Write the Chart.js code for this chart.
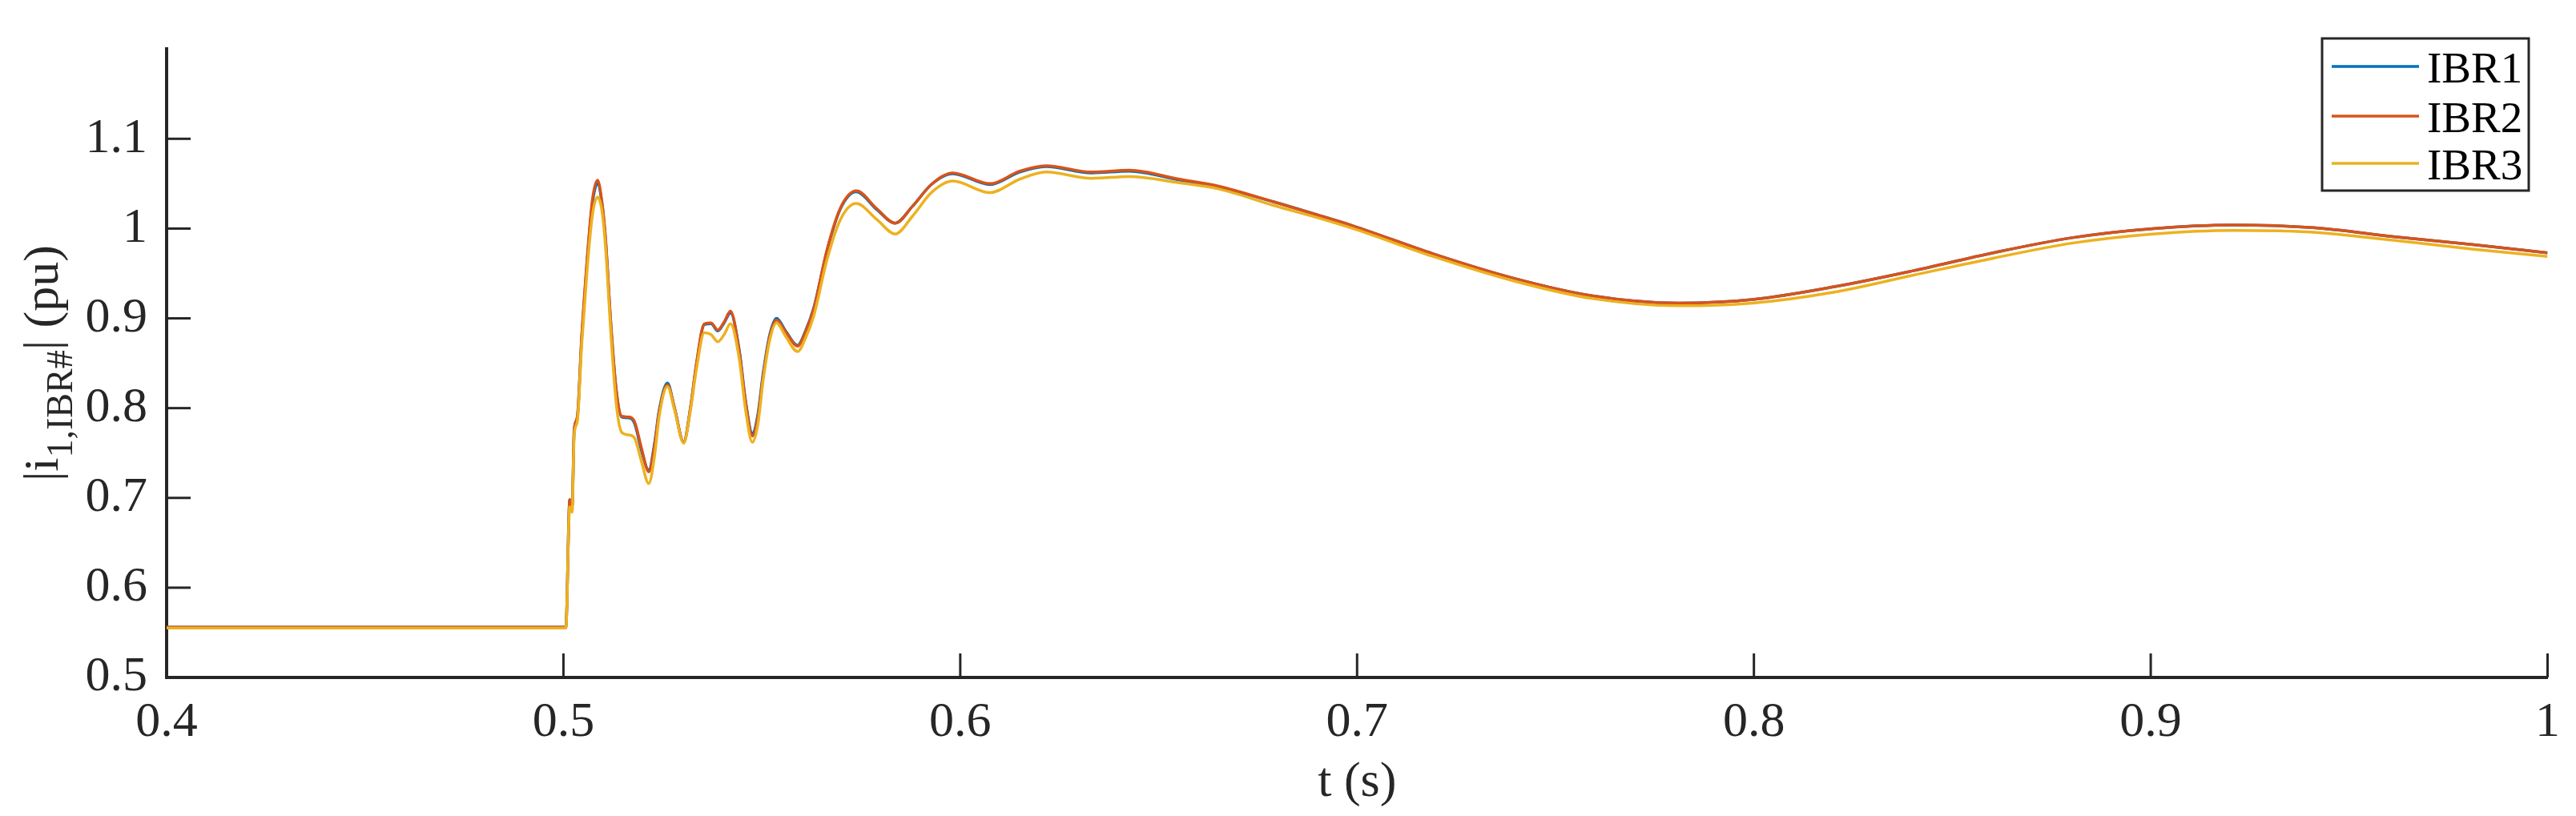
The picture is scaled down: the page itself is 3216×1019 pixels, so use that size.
<!DOCTYPE html>
<html>
<head>
<meta charset="utf-8">
<script src="https://cdn.jsdelivr.net/npm/chart.js@4/dist/chart.umd.min.js"></script>
<style>
  html, body { margin: 0; padding: 0; background: #fff; }
  canvas { display: block; }
</style>
</head>
<body>
<canvas id="currentChart" width="3216" height="1019"></canvas>
<script>
// time axis (s) and positive-sequence current magnitude of each IBR (pu)
const timeS = [
  0.400, 0.450, 0.5006, 0.5016, 0.5022, 0.5027, 0.5035, 0.5046, 0.5059, 0.5073,
  0.5086, 0.5097, 0.5106, 0.5120, 0.5133, 0.5147, 0.5167, 0.5180, 0.5197, 0.5215,
  0.5230, 0.5241, 0.5262, 0.5280, 0.5303, 0.5320, 0.5335, 0.5355, 0.5372, 0.5389,
  0.5405, 0.5421, 0.5443, 0.5459, 0.5476, 0.5490, 0.5503, 0.5520, 0.5537, 0.5560,
  0.5590, 0.5610, 0.5631, 0.5664, 0.5698, 0.5738, 0.5790, 0.5836, 0.5880, 0.5927,
  0.5981, 0.6075, 0.6150, 0.6216, 0.6331, 0.6425, 0.6552, 0.6653, 0.6788, 0.6909,
  0.6990, 0.7191, 0.7392, 0.7594, 0.7810, 0.7997, 0.8200, 0.8401, 0.8603, 0.8805,
  0.9006, 0.9208, 0.9409, 0.9611, 0.9813, 1.000
];
const ibr1 = [
  0.556, 0.556, 0.556, 0.698, 0.690, 0.775, 0.790, 0.878, 0.960, 1.028,
  1.050, 1.028, 0.988, 0.890, 0.820, 0.790, 0.789, 0.782, 0.752, 0.731,
  0.762, 0.797, 0.828, 0.800, 0.762, 0.800, 0.848, 0.893, 0.894, 0.886,
  0.895, 0.906, 0.865, 0.808, 0.772, 0.793, 0.838, 0.882, 0.900, 0.886,
  0.870, 0.886, 0.912, 0.975, 1.022, 1.041, 1.021, 1.006, 1.025, 1.049,
  1.061, 1.049, 1.063, 1.069, 1.062, 1.064, 1.054, 1.046, 1.030, 1.014,
  1.003, 0.972, 0.945, 0.925, 0.917, 0.921, 0.935, 0.953, 0.973, 0.990,
  1.000, 1.004, 1.001, 0.991, 0.982, 0.973
];
const ibr2 = [
  0.556, 0.556, 0.556, 0.698, 0.690, 0.775, 0.790, 0.880, 0.962, 1.032,
  1.054, 1.030, 0.990, 0.891, 0.821, 0.791, 0.790, 0.784, 0.755, 0.729,
  0.760, 0.795, 0.826, 0.800, 0.762, 0.800, 0.849, 0.894, 0.895, 0.887,
  0.896, 0.908, 0.863, 0.807, 0.769, 0.790, 0.835, 0.880, 0.898, 0.885,
  0.869, 0.885, 0.911, 0.976, 1.023, 1.042, 1.022, 1.006, 1.025, 1.049,
  1.062, 1.050, 1.064, 1.070, 1.063, 1.065, 1.055, 1.047, 1.030, 1.014,
  1.003, 0.972, 0.945, 0.925, 0.917, 0.921, 0.935, 0.953, 0.973, 0.990,
  1.000, 1.004, 1.001, 0.991, 0.982, 0.973
];
const ibr3 = [
  0.555, 0.555, 0.555, 0.690, 0.684, 0.770, 0.785, 0.870, 0.950, 1.015,
  1.035, 1.020, 0.980, 0.880, 0.805, 0.773, 0.770, 0.766, 0.740, 0.716,
  0.748, 0.790, 0.824, 0.798, 0.761, 0.797, 0.843, 0.884, 0.882, 0.874,
  0.882, 0.894, 0.855, 0.798, 0.762, 0.782, 0.830, 0.876, 0.895, 0.880,
  0.863, 0.878, 0.903, 0.965, 1.010, 1.028, 1.010, 0.994, 1.014, 1.040,
  1.053, 1.040, 1.055, 1.063, 1.056, 1.058, 1.051, 1.044, 1.026, 1.011,
  1.000, 0.969, 0.942, 0.922, 0.914, 0.917, 0.929, 0.948, 0.967, 0.984,
  0.994, 0.998, 0.996, 0.987, 0.977, 0.969
];
const seriesLabels = ['IBR1', 'IBR2', 'IBR3'];
const seriesColors = ['#0072BD', '#D95319', '#EDB120'];

const xTicks = [0.4, 0.5, 0.6, 0.7, 0.8, 0.9, 1.0];
const xTickLabels = ['0.4', '0.5', '0.6', '0.7', '0.8', '0.9', '1'];
const yTicks = [0.5, 0.6, 0.7, 0.8, 0.9, 1.0, 1.1];
const yTickLabels = ['0.5', '0.6', '0.7', '0.8', '0.9', '1', '1.1'];

const SERIF = "'Liberation Serif', 'Times New Roman', serif";
const AXIS_COLOR = '#262626';
const FONT_SIZE = 62;

const allSeries = [ibr1, ibr2, ibr3];
const datasets = allSeries.map((vals, i) => ({
  label: seriesLabels[i],
  data: timeS.map((t, k) => ({ x: t, y: vals[k] })),
  borderColor: seriesColors[i],
  backgroundColor: seriesColors[i],
  borderWidth: 3.5,
  pointRadius: 0,
  cubicInterpolationMode: 'monotone',
  // matlab draws later lines on top
  order: allSeries.length - i
}));

// white page behind everything
const whiteBg = {
  id: 'whiteBg',
  beforeDraw(chart) {
    const ctx = chart.ctx;
    ctx.save();
    ctx.fillStyle = '#fff';
    ctx.fillRect(0, 0, chart.width, chart.height);
    ctx.restore();
  }
};

// tick marks pointing into the plot, like matlab
const innerTicks = {
  id: 'innerTicks',
  afterDraw(chart) {
    const { ctx, chartArea, scales } = chart;
    const len = 30;
    ctx.save();
    ctx.strokeStyle = AXIS_COLOR;
    ctx.lineWidth = 3;
    xTicks.forEach(v => {
      const px = scales.x.getPixelForValue(v);
      ctx.beginPath();
      ctx.moveTo(px, chartArea.bottom);
      ctx.lineTo(px, chartArea.bottom - len);
      ctx.stroke();
    });
    yTicks.forEach(v => {
      const py = scales.y.getPixelForValue(v);
      ctx.beginPath();
      ctx.moveTo(chartArea.left, py);
      ctx.lineTo(chartArea.left + len, py);
      ctx.stroke();
    });
    ctx.restore();
  }
};

// y title with a subscript: |i_{1,IBR#}| (pu)
const yTitle = {
  id: 'yTitle',
  afterDraw(chart) {
    const { ctx, chartArea } = chart;
    const mainFont = FONT_SIZE + 'px ' + SERIF;
    const subFont = '46px ' + SERIF;
    const parts = [
      { text: '|i', font: mainFont, dy: 0 },
      { text: '1,IBR#', font: subFont, dy: 18 },
      { text: '| (pu)', font: mainFont, dy: 0 }
    ];
    ctx.save();
    let total = 0;
    parts.forEach(p => { ctx.font = p.font; p.w = ctx.measureText(p.text).width; total += p.w; });
    const cy = (chartArea.top + chartArea.bottom) / 2;
    ctx.translate(72, cy);
    ctx.rotate(-Math.PI / 2);
    ctx.fillStyle = AXIS_COLOR;
    ctx.textBaseline = 'alphabetic';
    ctx.textAlign = 'left';
    let x = -total / 2;
    parts.forEach(p => {
      ctx.font = p.font;
      ctx.fillText(p.text, x, p.dy);
      x += p.w;
    });
    ctx.restore();
  }
};

// boxed legend in the upper right corner
const boxLegend = {
  id: 'boxLegend',
  afterDraw(chart) {
    const ctx = chart.ctx;
    const box = { left: 2899, top: 48, width: 258, height: 190 };
    const rowY = [83, 145, 204];
    ctx.save();
    ctx.fillStyle = '#fff';
    ctx.fillRect(box.left, box.top, box.width, box.height);
    ctx.strokeStyle = AXIS_COLOR;
    ctx.lineWidth = 3;
    ctx.strokeRect(box.left, box.top, box.width, box.height);
    ctx.font = '55px ' + SERIF;
    ctx.textBaseline = 'alphabetic';
    chart.data.datasets.forEach((ds, i) => {
      const y = rowY[i];
      ctx.strokeStyle = ds.borderColor;
      ctx.lineWidth = 3.5;
      ctx.beginPath();
      ctx.moveTo(2911, y);
      ctx.lineTo(3020, y);
      ctx.stroke();
      ctx.fillStyle = '#000';
      ctx.fillText(ds.label, 3030, y + 20);
    });
    ctx.restore();
  }
};

new Chart(document.getElementById('currentChart'), {
  type: 'line',
  data: { datasets: datasets },
  plugins: [whiteBg, innerTicks, yTitle, boxLegend],
  options: {
    responsive: false,
    devicePixelRatio: 1,
    animation: false,
    layout: { padding: { top: 17, right: 33, left: 0, bottom: 0 } },
    plugins: {
      legend: { display: false },
      tooltip: { enabled: false }
    },
    scales: {
      x: {
        type: 'linear',
        min: 0.4,
        max: 1.0,
        afterBuildTicks: scale => { scale.ticks = xTicks.map(v => ({ value: v })); },
        afterFit: scale => { scale.height = 173; },
        grid: { display: false, drawTicks: false },
        border: { display: true, color: AXIS_COLOR, width: 4 },
        ticks: {
          autoSkip: false,
          maxRotation: 0,
          padding: 20,
          color: AXIS_COLOR,
          font: { family: SERIF, size: FONT_SIZE },
          callback: (v, i) => xTickLabels[i]
        },
        title: {
          display: true,
          text: 't (s)',
          color: AXIS_COLOR,
          font: { family: SERIF, size: FONT_SIZE },
          padding: { top: 0, bottom: 4 }
        }
      },
      y: {
        min: 0.5,
        max: 1.2,
        afterBuildTicks: scale => { scale.ticks = yTicks.map(v => ({ value: v })); },
        afterFit: scale => { scale.width = 208; },
        grid: { display: false, drawTicks: false },
        border: { display: true, color: AXIS_COLOR, width: 4 },
        ticks: {
          autoSkip: false,
          padding: 24,
          color: AXIS_COLOR,
          font: { family: SERIF, size: FONT_SIZE },
          callback: (v, i) => yTickLabels[i]
        }
      }
    }
  }
});
</script>
</body>
</html>
